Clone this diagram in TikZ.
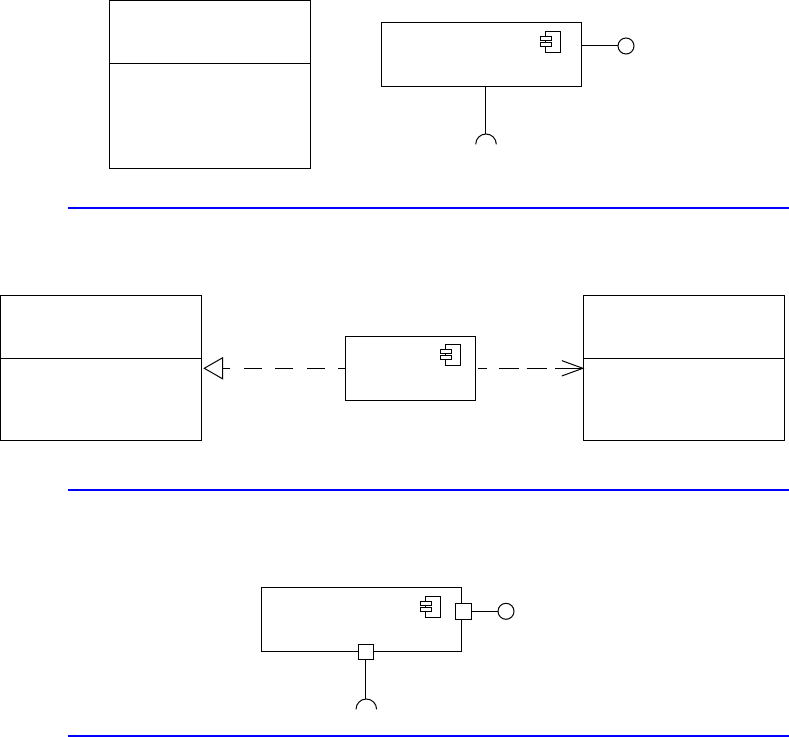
\documentclass[tikz,border=0pt]{standalone}
\usetikzlibrary{calc, positioning}
\usetikzlibrary{arrows.meta}

\tikzset{
  classbox/.style={draw, outer sep=0pt, minimum width=150.75pt},
  compbox/.style={draw, outer sep=0pt, minimum height=48pt},
  portbox/.style={draw, fill=white, outer sep=0pt, minimum size=11.7pt, inner sep=0pt},
  ballend/.style={draw, circle, outer sep=0pt, minimum size=12pt, inner sep=0pt},
  sepline/.style={draw=blue, line width=1.5pt},
  compicon/.pic={
    \draw (0,0) rectangle (15.3,21);
    \draw[fill=white] (-5,5.2) rectangle (6.4,9.2);
    \draw[fill=white] (-5,11) rectangle (6.4,15.4);
  },
  sockethead/.pic={
    \draw (-9.8,10.3) arc[start angle=180, end angle=360, radius=10.3];
  }
}

\begin{document}
\begin{tikzpicture}[x=0.75pt, y=-0.75pt, line width=0.75pt]
\useasboundingbox (0,0) rectangle (789,737);

% top row
\node[classbox, minimum height=125.9pt] (topclass) at (210,84.4) {};
\draw (topclass.west |- 0,63.5) -- (topclass.east |- 0,63.5);
\node[compbox, minimum width=150pt] (topcomp) at (481.5,54.25) {};
\pic at (545.5,31.5) {compicon};
\node[ballend] (topball) at (626,46) {};
\coordinate (topsock) at (485.5,134);
\draw (topcomp.east |- topball) -- (topball);
\draw (topcomp.south -| topsock) -- (topsock);
\pic at (topsock) {sockethead};
\draw[sepline] (68,208) -- (789,208);

% middle row
\node[classbox, minimum height=108.75pt] (leftclass) at (101,368) {};
\draw (leftclass.west |- 0,359) -- (leftclass.east |- 0,359);
\node[classbox, minimum height=108.75pt] (rightclass) at (684,368) {};
\draw (rightclass.west |- 0,359) -- (rightclass.east |- 0,359);
\node[compbox, minimum width=97.8pt] (midcomp) at (410.5,368.3) {};
\pic at (445.3,344.3) {compicon};
\draw[-{Triangle[open, length=15pt, width=17pt]}, dash pattern=on 13.5pt off 10.1pt, dash phase=8.2pt, shorten >=1.3pt]
  (midcomp.west) -- (midcomp.west -| leftclass.east);
\draw[-{Straight Barb[length=15.75pt, width=11.5pt]}, dash pattern=on 0pt off 1.7pt on 6.5pt off 9pt on 15.5pt off 5.5pt on 15.5pt off 5.8pt on 40pt, shorten >=-0.6pt]
  (midcomp.east) -- (midcomp.east -| rightclass.west);
\draw[sepline] (68,490) -- (789,490);

% bottom row
\node[compbox, minimum width=150pt] (botcomp) at (361.5,619) {};
\pic at (425.3,596) {compicon};
\node[portbox] (rightport) at (463.7,611.3) {};
\node[portbox] (lowport) at (365.8,651.8) {};
\node[ballend] (botball) at (506,611.3) {};
\coordinate (botsock) at (365.8,699);
\draw (rightport) -- (botball);
\draw (lowport) -- (botsock);
\pic at (botsock) {sockethead};
\draw[sepline] (68,736) -- (789,736);
\end{tikzpicture}
\end{document}
